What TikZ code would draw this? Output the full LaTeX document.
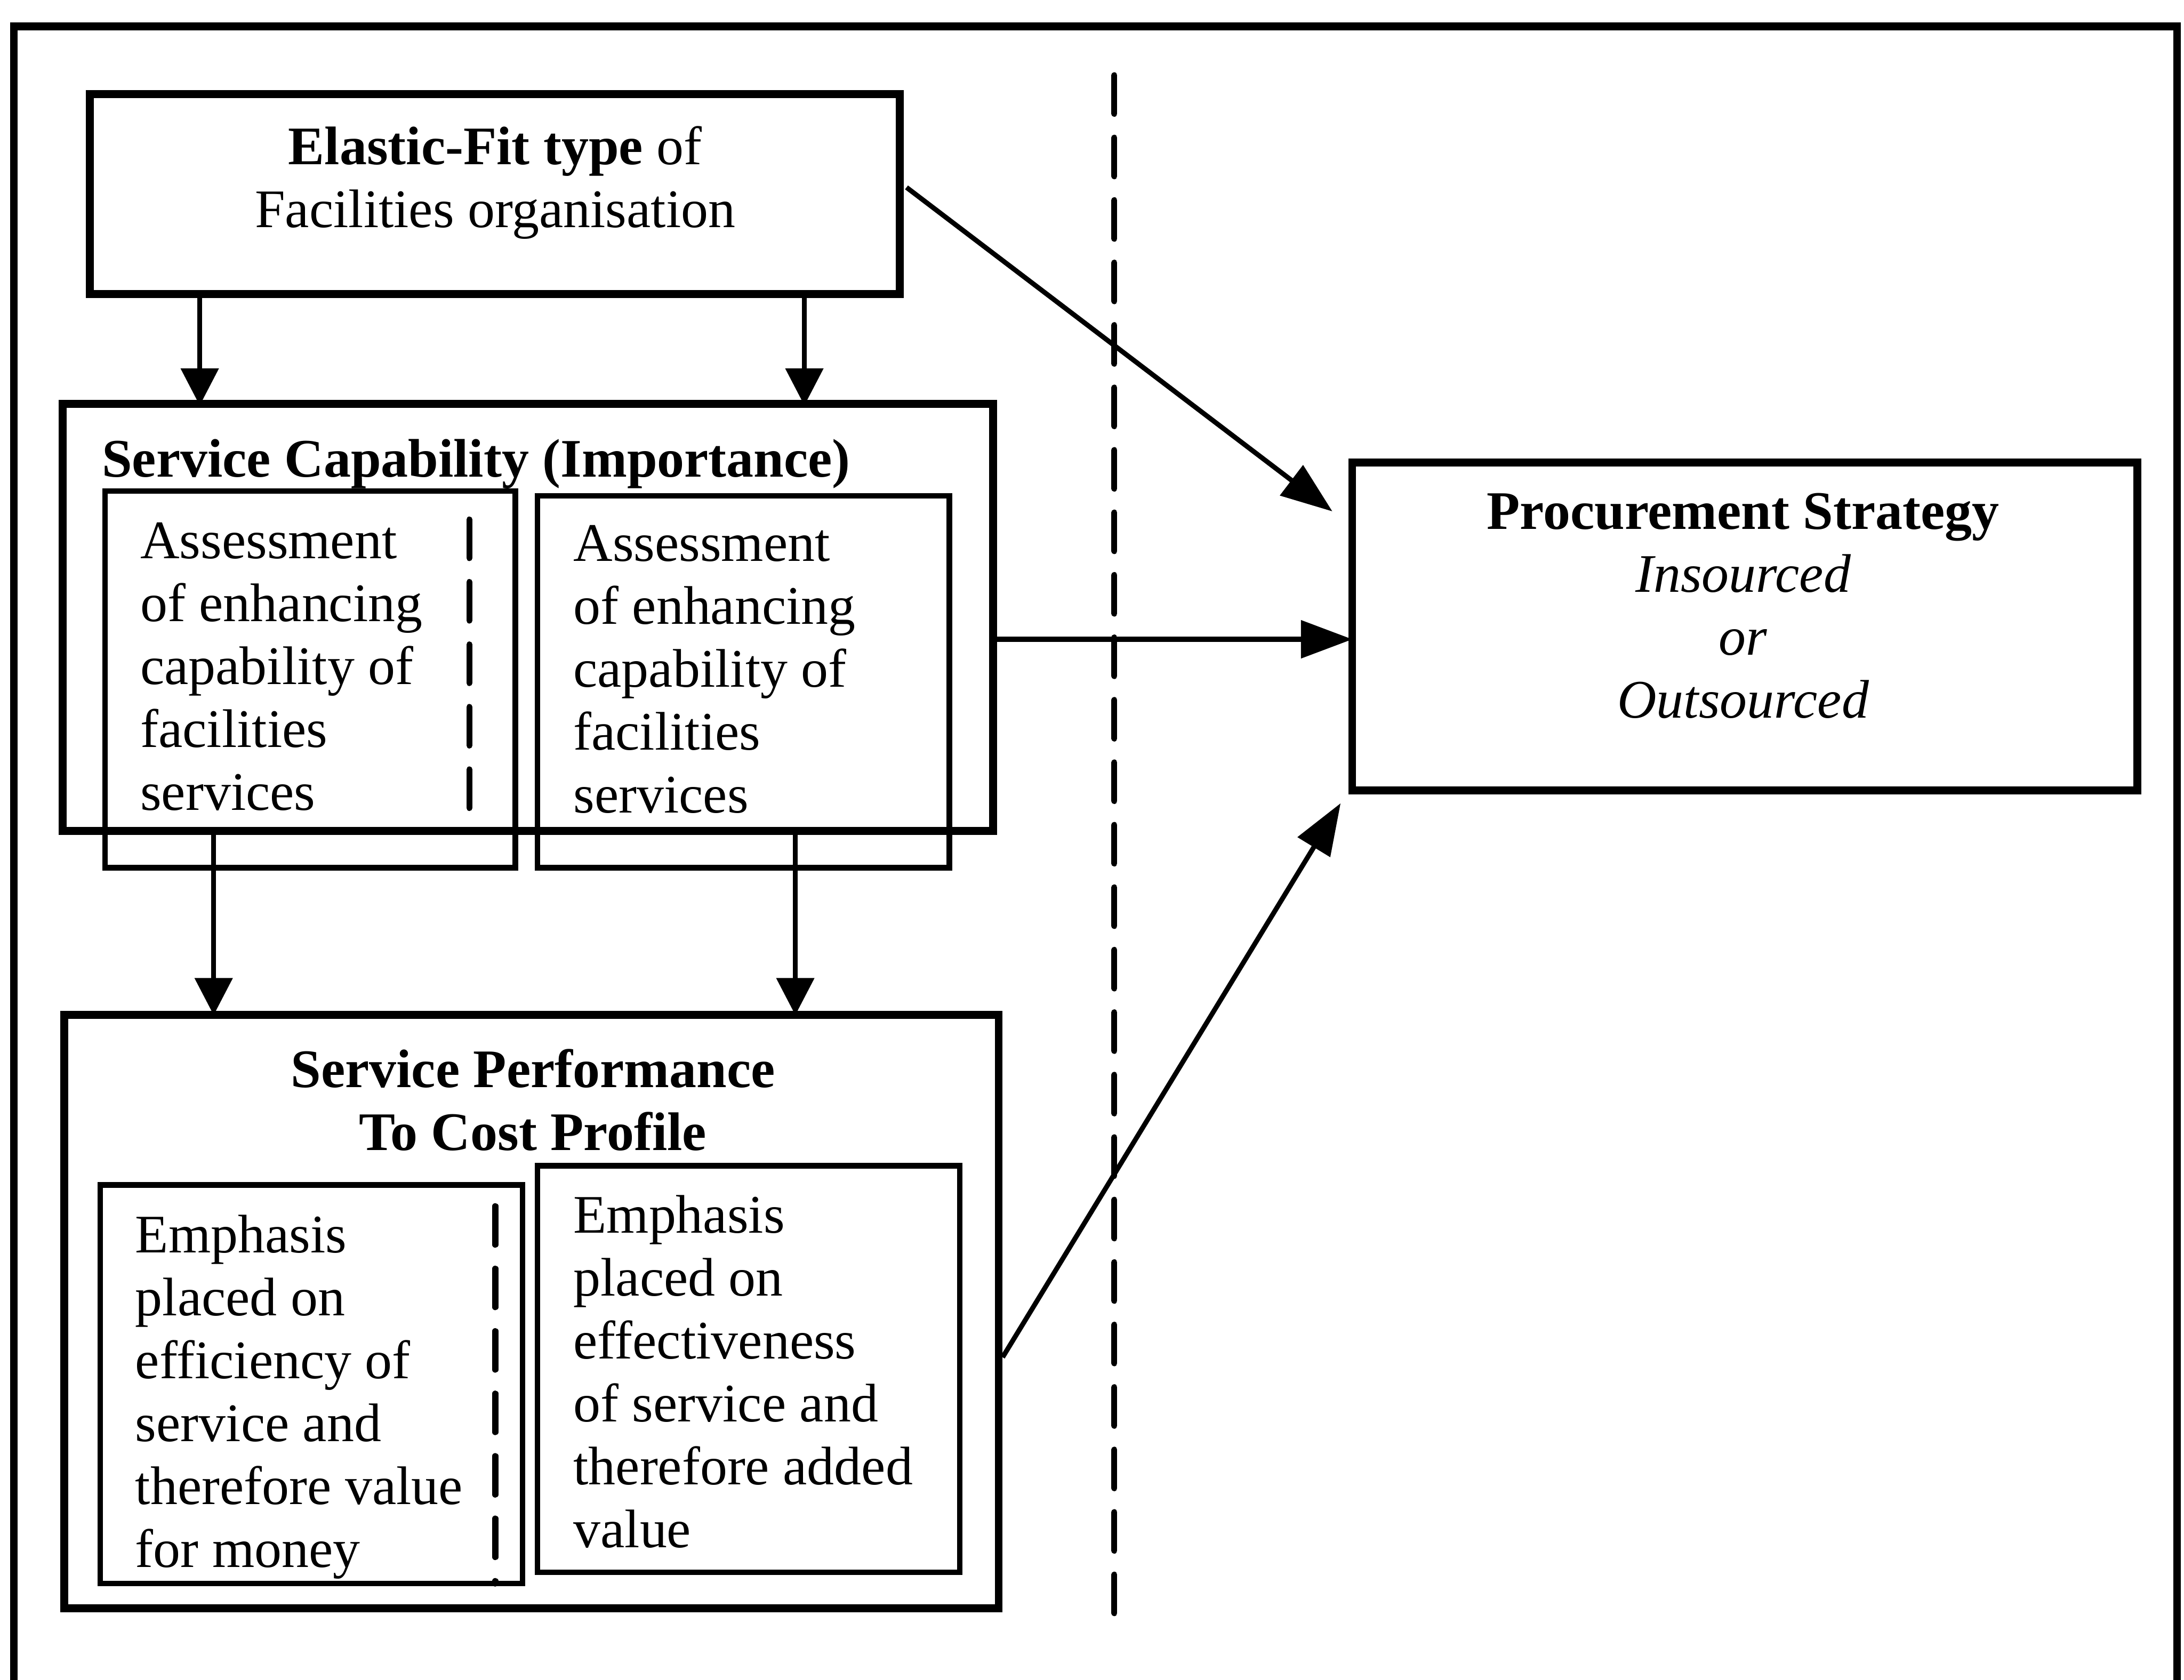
\documentclass[tikz,border=0pt]{standalone}
\usepackage{fontspec}
\setmainfont{Liberation Serif}
\usetikzlibrary{arrows.meta,fit,calc}
\begin{document}
\begin{tikzpicture}[x=0.03424cm, y=-0.03424cm,
  outline/.style={line width=5.5pt},
  mainbox/.style={draw, line width=5.5pt, inner sep=0pt},
  subbox/.style={draw, line width=3.8pt, inner sep=0pt},
  txt/.style={inner sep=0pt, font=\fontsize{38}{44}\selectfont},
  divider/.style={line width=4.2pt, dash pattern=on 27pt off 16.7pt, line cap=round},
  downarrow/.style={line width=3.4pt, -{Triangle[length=26pt,width=26pt]}},
  sidearrow/.style={line width=3.4pt, -{Triangle[length=36pt,width=26pt]}},
]
\useasboundingbox (0,0) rectangle (1568,1206);

% open outer frame (no bottom edge)
\draw[outline] (10,1215) -- (10,19) -- (1563,19) -- (1563,1215);

% vertical divider
\draw[divider] (800,54) -- (800,1159);

% boxes
\node[mainbox, fit={(64.4,67.7) (646,211)}] (elastic) {};
\node[mainbox, fit={(45,290) (713,596.6)}] (cap) {};
\node[subbox, fit={(75.5,352.6) (370,623)}] (capL) {};
\node[subbox, fit={(386,356) (681.6,623)}] (capR) {};
\node[mainbox, fit={(46,728.7) (717,1154.8)}] (perf) {};
\node[subbox, fit={(72,850.8) (375,1137)}] (perfL) {};
\node[subbox, fit={(386,837) (689,1129)}] (perfR) {};
\node[mainbox, fit={(970.8,332) (1534.5,567.6)}] (proc) {};

% dashed separators inside the left sub-boxes
\draw[divider] (337,373) -- (337,590);
\draw[divider] (355.6,866) -- (355.6,1137);

% texts
\node[txt, anchor=north, align=center] (elastictext) at (355.5,90.3)
  {\textbf{Elastic-Fit type} of\\Facilities organisation};
\node[txt, anchor=north west, align=left] (captitle) at (73,315.3)
  {\textbf{Service Capability (Importance)}};
\node[txt, anchor=north west, align=left] (capLtext) at (100.6,375)
  {Assessment\\of enhancing\\capability of\\facilities\\services};
\node[txt, anchor=north west, align=left] (capRtext) at (411.5,377)
  {Assessment\\of enhancing\\capability of\\facilities\\services};
\node[txt, anchor=north, align=center] (perftitle) at (382.6,753)
  {\textbf{Service Performance}\\\textbf{To Cost Profile}};
\node[txt, anchor=north west, align=left] (perfLtext) at (97,872)
  {Emphasis\\placed on\\efficiency of\\service and\\therefore value\\for money};
\node[txt, anchor=north west, align=left] (perfRtext) at (411.5,858)
  {Emphasis\\placed on\\effectiveness\\of service and\\therefore added\\value};
\node[txt, anchor=north, align=center] (proctext) at (1251.5,354)
  {\textbf{Procurement Strategy}\\\textit{Insourced}\\\textit{or}\\\textit{Outsourced}};

% connectors
\coordinate (xa) at (143.4,0);
\coordinate (xb) at (577.5,0);
\coordinate (xc) at (153.4,0);
\coordinate (xd) at (571,0);
\coordinate (ymid) at (0,459);
\coordinate (yperf) at (0,974.5);

\draw[downarrow] (elastic.south -| xa) -- ($(cap.north -| xa)+(0,4)$);
\draw[downarrow] (elastic.south -| xb) -- ($(cap.north -| xb)+(0,4)$);
\draw[downarrow] (cap.south -| xc) -- ($(perf.north -| xc)+(0,3)$);
\draw[downarrow] (cap.south -| xd) -- ($(perf.north -| xd)+(0,3)$);

\draw[sidearrow] ($(elastic.east)+(2,-4.8)$) -- ($(proc.north west)+(-11.4,38)$);
\draw[sidearrow] (cap.east |- ymid) -- ($(proc.west |- ymid)+(3,0)$);
\draw[sidearrow] (perf.east |- yperf) -- ($(proc.south west)+(-5.5,6.3)$);
\end{tikzpicture}
\end{document}
